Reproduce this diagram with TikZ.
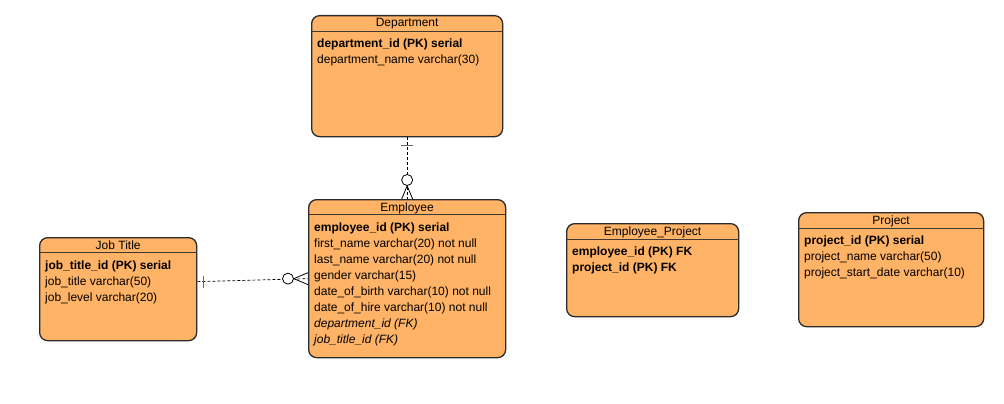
\documentclass[tikz,border=0pt]{standalone}
\usepackage{fontspec}
\setmainfont{Liberation Sans}
\usetikzlibrary{positioning}

\definecolor{erfill}{HTML}{FFB366}
\definecolor{erline}{HTML}{2B2B2B}

\tikzset{
  entity/.style={draw=erline, fill=erfill, rounded corners=8pt, line width=1.3pt,
    anchor=north west, inner sep=0pt},
  etitle/.style={font=\fontsize{12}{14}\selectfont, inner sep=0pt, anchor=base},
  efields/.style={font=\fontsize{12}{16}\selectfont, align=left, anchor=north west, inner sep=0pt},
  hdr/.style={draw=erline!90!erfill, line width=0.9pt},
  rel/.style={dash pattern=on 3pt off 2pt, line width=0.7pt},
  onebar/.style={draw=black!60, line width=1.3pt},
  optional/.style={circle, draw, fill=white, minimum size=11pt, inner sep=0pt, line width=0.8pt},
  foot/.style={line width=0.8pt},
}

\begin{document}
\begin{tikzpicture}[x=1pt,y=-1pt]
%%Canvas
\useasboundingbox (0,0) rectangle (1004,404);

%%Tables
\node[entity, minimum width=191pt, minimum height=121pt] (dept) at (311,15) {};
\node[entity, minimum width=197pt, minimum height=158pt] (emp) at (308,199) {};
\node[entity, minimum width=157pt, minimum height=103pt] (job) at (39,237) {};
\node[entity, minimum width=172pt, minimum height=93pt] (empproj) at (566,223) {};
\node[entity, minimum width=185pt, minimum height=114pt] (proj) at (798,212) {};

%%Titles
\node[etitle] (dept title) at ([yshift=-12pt]dept.north) {Department};
\node[etitle] (emp title) at ([yshift=-12pt]emp.north) {Employee};
\node[etitle] (job title) at ([yshift=-12pt]job.north) {Job Title};
\node[etitle] (empproj title) at ([yshift=-12pt]empproj.north) {Employee\_Project};
\node[etitle] (proj title) at ([yshift=-12pt]proj.north) {Project};

\draw[hdr] ([yshift=-16pt]dept.north west) -- ([yshift=-16pt]dept.north east);
\draw[hdr] ([yshift=-15pt]emp.north west) -- ([yshift=-15pt]emp.north east);
\draw[hdr] ([yshift=-15pt]job.north west) -- ([yshift=-15pt]job.north east);
\draw[hdr] ([yshift=-16pt]empproj.north west) -- ([yshift=-16pt]empproj.north east);
\draw[hdr] ([yshift=-16pt]proj.north west) -- ([yshift=-16pt]proj.north east);

%%Fields
\node[efields] (dept fields) at ([xshift=6pt,yshift=-23.5pt]dept.north west)
  {\textbf{department\_id (PK) serial}\\
   department\_name varchar(30)};
\node[efields] (emp fields) at ([xshift=6pt,yshift=-23.5pt]emp.north west)
  {\textbf{employee\_id (PK) serial}\\
   first\_name varchar(20) not null\\
   last\_name varchar(20) not null\\
   gender varchar(15)\\
   date\_of\_birth varchar(10) not null\\
   date\_of\_hire varchar(10) not null\\
   \textit{department\_id (FK)}\\
   \textit{job\_title\_id (FK)}};
\node[efields] (job fields) at ([xshift=6pt,yshift=-23.5pt]job.north west)
  {\textbf{job\_title\_id (PK) serial}\\
   job\_title varchar(50)\\
   job\_level varchar(20)};
\node[efields] (empproj fields) at ([xshift=6pt,yshift=-23.5pt]empproj.north west)
  {\textbf{employee\_id (PK) FK}\\
   \textbf{project\_id (PK) FK}};
\node[efields] (proj fields) at ([xshift=6pt,yshift=-23.5pt]proj.north west)
  {\textbf{project\_id (PK) serial}\\
   project\_name varchar(50)\\
   project\_start\_date varchar(10)};

%%Department - Employee
\draw[rel] (dept.south) -- (emp.north);
\draw[onebar] ([xshift=-6pt,yshift=-8pt]dept.south) -- ([xshift=6pt,yshift=-8pt]dept.south);
\node[optional] (dept circle) at ([yshift=19pt]emp.north) {};
\draw[foot] (dept circle.south) -- ([xshift=-5.5pt]emp.north);
\draw[foot] (dept circle.south) -- ([xshift=5.5pt]emp.north);

%%Job Title - Employee
\coordinate (job port) at ([yshift=7.5pt]job.east);
\coordinate (emp port) at ([yshift=0pt]emp.west);
\draw[rel] (job port) -- (emp port);
\draw[onebar] ([xshift=6pt,yshift=6pt]job port) -- ([xshift=6pt,yshift=-6pt]job port);
\node[optional] (job circle) at ([xshift=-20pt]emp port) {};
\draw[foot] (job circle.east) -- ([yshift=6pt]emp port);
\draw[foot] (job circle.east) -- ([yshift=-6pt]emp port);

\end{tikzpicture}
\end{document}
